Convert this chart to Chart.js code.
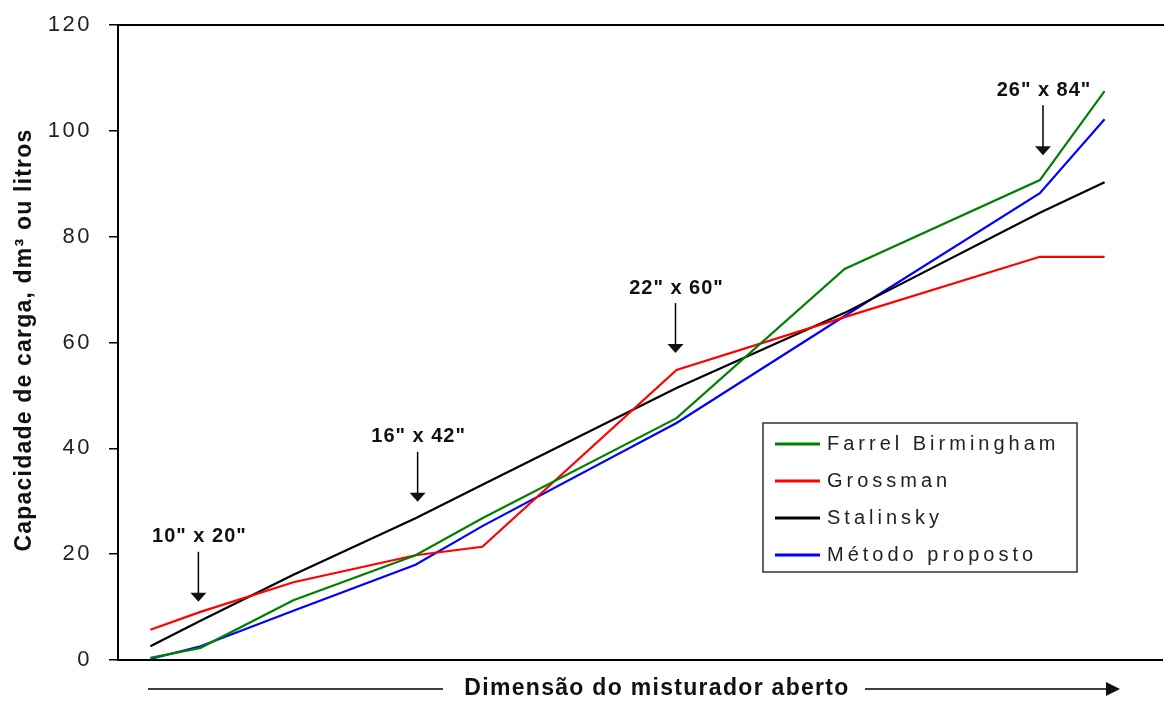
<!DOCTYPE html>
<html>
<head>
<meta charset="utf-8">
<script src="https://cdn.jsdelivr.net/npm/chart.js@4"></script>
<style>
  html, body { margin: 0; padding: 0; background: #fff; }
  #wrap { width: 1164px; height: 702px; }
</style>
</head>
<body>
<div id="wrap"><canvas id="mixerChart"></canvas></div>
<script>
// relative position of each mixer size along the (unlabelled) x axis, 0-100
const mixerPos  = [3.1, 7.9, 16.8, 28.5, 34.9, 53.5, 69.6, 88.3, 94.5];
const farrel    = [0.4, 2.3, 11.3, 19.8, 26.8, 45.7, 73.9, 90.7, 107.5];
const grossman  = [5.7, 9.1, 14.7, 19.8, 21.4, 54.8, 64.8, 76.2, 76.2];
const stalinsky = [2.6, 7.4, 16.1, 26.8, 33.1, 51.4, 65.6, 84.5, 90.3];
const metodo    = [0.2, 2.6, 9.3, 18.0, 25.3, 44.8, 65.0, 88.2, 102.2];
const yTicks = [0, 20, 40, 60, 80, 100, 120];

// size callouts: label and the point the arrow points at
const sizeLabels = ['10" x 20"', '16" x 42"', '22" x 60"', '26" x 84"'];
const sizeX = [7.7, 28.7, 53.4, 88.6];
const sizeY = [11.0, 29.9, 58.0, 95.4];

const FONT = "'Liberation Sans', Arial, sans-serif";

const pts = vals => vals.map((v, i) => ({ x: mixerPos[i], y: v }));

const decor = {
    id: 'decor',
    beforeDraw(chart) {
        chart.ctx.letterSpacing = '2.5px';
    },
    afterDraw(chart) {
        const ctx = chart.ctx;
        const area = chart.chartArea;
        const xs = chart.scales.x, ys = chart.scales.y;
        ctx.save();

        // top frame line
        ctx.strokeStyle = '#000';
        ctx.lineWidth = 2;
        ctx.beginPath();
        ctx.moveTo(area.left, area.top);
        ctx.lineTo(chart.width, area.top);
        ctx.stroke();

        // size callouts
        ctx.fillStyle = '#111';
        ctx.textAlign = 'center';
        ctx.textBaseline = 'middle';
        ctx.letterSpacing = '1px';
        ctx.font = 'bold 20px ' + FONT;
        sizeLabels.forEach((lab, i) => {
            const px = xs.getPixelForValue(sizeX[i]);
            const py = ys.getPixelForValue(sizeY[i]);
            ctx.lineWidth = 1.5;
            ctx.beginPath();
            ctx.moveTo(px, py - 50);
            ctx.lineTo(px, py - 6);
            ctx.stroke();
            ctx.beginPath();
            ctx.moveTo(px - 8, py - 9);
            ctx.lineTo(px + 8, py - 9);
            ctx.lineTo(px, py);
            ctx.closePath();
            ctx.fill();
            ctx.fillText(lab, px + 1, py - 65);
        });

        // y axis title
        ctx.save();
        ctx.translate(25, 340);
        ctx.rotate(-Math.PI / 2);
        ctx.font = 'bold 23px ' + FONT;
        ctx.letterSpacing = '1.2px';
        ctx.fillText('Capacidade de carga, dm³ ou litros', 0, 0);
        ctx.restore();

        // x axis title with arrow
        const ty = 689;
        ctx.font = 'bold 23px ' + FONT;
        ctx.letterSpacing = '1.3px';
        ctx.fillText('Dimensão do misturador aberto', 657, ty);
        ctx.lineWidth = 1.5;
        ctx.beginPath();
        ctx.moveTo(148, ty);
        ctx.lineTo(443, ty);
        ctx.moveTo(865, ty);
        ctx.lineTo(1110, ty);
        ctx.stroke();
        ctx.beginPath();
        ctx.moveTo(1106, ty - 7);
        ctx.lineTo(1120, ty);
        ctx.lineTo(1106, ty + 7);
        ctx.closePath();
        ctx.fill();

        // legend box
        const lx = 763, ly = 423, lw = 314, lh = 149;
        ctx.strokeStyle = '#333';
        ctx.lineWidth = 1.5;
        ctx.strokeRect(lx, ly, lw, lh);
        ctx.textAlign = 'left';
        ctx.font = '20px ' + FONT;
        ctx.letterSpacing = '4px';
        chart.data.datasets.forEach((ds, i) => {
            const ry = ly + 21 + i * 37;
            ctx.strokeStyle = ds.borderColor;
            ctx.lineWidth = 3;
            ctx.beginPath();
            ctx.moveTo(lx + 12, ry);
            ctx.lineTo(lx + 57, ry);
            ctx.stroke();
            ctx.fillStyle = '#222';
            ctx.fillText(ds.label, lx + 64, ry);
        });
        ctx.restore();
    }
};

new Chart(document.getElementById('mixerChart'), {
    type: 'line',
    data: {
        datasets: [
            { label: 'Farrel Birmingham', data: pts(farrel), borderColor: '#008000' },
            { label: 'Grossman', data: pts(grossman), borderColor: '#ff0000' },
            { label: 'Stalinsky', data: pts(stalinsky), borderColor: '#000000' },
            { label: 'Método proposto', data: pts(metodo), borderColor: '#0000ff' }
        ].map(d => Object.assign(d, { borderWidth: 2.2, pointRadius: 0, tension: 0, fill: false }))
    },
    options: {
        responsive: true,
        maintainAspectRatio: false,
        animation: false,
        layout: { padding: { top: 25, right: 2, left: 0, bottom: 0 } },
        plugins: { legend: { display: false }, tooltip: { enabled: false } },
        scales: {
            x: {
                type: 'linear',
                min: 0,
                max: 100,
                ticks: { display: false },
                grid: { display: false },
                border: { color: '#000', width: 2 },
                afterFit: s => { s.height = 42; s.paddingLeft = 0; s.paddingRight = 0; }
            },
            y: {
                min: 0,
                max: 120,
                afterBuildTicks: s => { s.ticks = yTicks.map(v => ({ value: v })); },
                border: { color: '#000', width: 2 },
                grid: { drawOnChartArea: false, color: '#000', lineWidth: 1.5, tickLength: 9 },
                ticks: { color: '#222', padding: 17, font: { family: FONT, size: 22 } },
                afterFit: s => { s.width = 118; s.paddingTop = 0; s.paddingBottom = 0; }
            }
        }
    },
    plugins: [decor]
});
</script>
</body>
</html>
